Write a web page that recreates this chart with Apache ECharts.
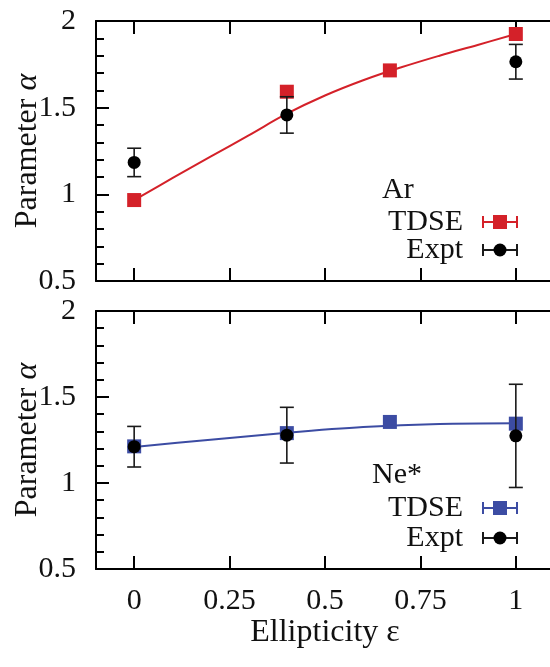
<!DOCTYPE html>
<html><head><meta charset="utf-8">
<script src="https://cdn.jsdelivr.net/npm/echarts@6/dist/echarts.min.js"></script>
<style>html,body{margin:0;padding:0;background:#fff}#c{width:550px;height:667px}</style>
</head><body><div id="c"></div>
<script>
// ---- data ----
const xTicks = [0, 0.25, 0.5, 0.75, 1];

const arTdseX = [0, 0.4, 0.67, 1];
const arTdseY = [0.967, 1.592, 1.715, 1.925];
const arFitX = [0, 0.1, 0.2, 0.3, 0.4, 0.5, 0.6, 0.7, 0.8, 0.9, 1];
const arFitY = [0.967, 1.093, 1.217, 1.340, 1.465, 1.570, 1.658, 1.733, 1.800, 1.862, 1.925];
const arExptX = [0, 0.4, 1];
const arExptY = [1.184, 1.458, 1.765];
const arExptErr = [0.082, 0.105, 0.100];

const neTdseX = [0, 0.4, 0.67, 1];
const neTdseY = [1.213, 1.290, 1.355, 1.345];
const neFitX = [0, 0.2, 0.4, 0.6, 0.8, 1];
const neFitY = [1.210, 1.252, 1.292, 1.325, 1.343, 1.347];
const neExptX = [0, 0.4, 1];
const neExptY = [1.211, 1.278, 1.274];
const neExptErr = [0.118, 0.162, 0.300];

// ---- styles ----
const FONT = 'Liberation Serif';
const FS = 30, FSN = 32;
const RED = '#d42129', BLUE = '#3c4ca3', INK = '#000';

const zip = (xs, ys) => xs.map((x, i) => [x, ys[i]]);

function xAxisDef(gridIndex, position, showLabel) {
  return {
    type: 'value', gridIndex, position, min: -0.1, max: 1.1,
    axisLine: { show: true, onZero: false, lineStyle: { color: INK, width: 2 } },
    axisTick: { show: true, inside: true, length: 13, customValues: xTicks, lineStyle: { color: INK, width: 2 } },
    axisLabel: { show: showLabel, customValues: xTicks, fontFamily: FONT, fontSize: FS, color: '#111', margin: 17,
      formatter: v => String(v) },
    splitLine: { show: false },
    name: showLabel ? 'Ellipticity ε' : '',
    nameLocation: 'middle', nameGap: 48, nameMoveOverlap: false,
    nameTextStyle: { fontFamily: FONT, fontSize: FSN, color: '#111' }
  };
}
function yAxisDef(gridIndex) {
  return {
    type: 'value', gridIndex, min: 0.5, max: 2, interval: 0.5,
    axisLine: { show: true, onZero: false, lineStyle: { color: INK, width: 2 } },
    axisTick: { show: true, inside: true, length: 13, lineStyle: { color: INK, width: 2 } },
    minorTick: { show: true, splitNumber: 5, length: 8, lineStyle: { color: INK, width: 2 } },
    axisLabel: { fontFamily: FONT, fontSize: FS, color: '#111', margin: 20 },
    splitLine: { show: false }, minorSplitLine: { show: false },
    name: 'Parameter {a|α}', nameLocation: 'middle', nameGap: 52, nameRotate: 90, nameMoveOverlap: false,
    nameTextStyle: { fontFamily: FONT, fontSize: FSN, color: '#111',
      rich: { a: { fontFamily: FONT, fontSize: FSN, fontStyle: 'italic', color: '#111' } } }
  };
}
function errSeries(axisIdx, xs, ys, errs) {
  return {
    type: 'custom', xAxisIndex: axisIdx * 2, yAxisIndex: axisIdx, z: 4, silent: true,
    data: xs.map((x, i) => [x, ys[i] - errs[i], ys[i] + errs[i]]),
    renderItem(params, api) {
      const lo = api.coord([api.value(0), api.value(1)]);
      const hi = api.coord([api.value(0), api.value(2)]);
      const w = 7, st = { stroke: '#1a1a1a', lineWidth: 1.6 };
      return { type: 'group', children: [
        { type: 'line', shape: { x1: lo[0], y1: lo[1], x2: hi[0], y2: hi[1] }, style: st },
        { type: 'line', shape: { x1: lo[0] - w, y1: lo[1], x2: lo[0] + w, y2: lo[1] }, style: st },
        { type: 'line', shape: { x1: hi[0] - w, y1: hi[1], x2: hi[0] + w, y2: hi[1] }, style: st }
      ] };
    }
  };
}
function legendBlock(title, titleX, yTitle, yT, yE, color) {
  const txt = (t, x, y, align) => ({ type: 'text', style: { text: t, x, y, align, verticalAlign: 'middle',
    fontFamily: FONT, fontSize: FS, fill: '#111' } });
  const bar = (y, c) => [
    { type: 'line', shape: { x1: 483, y1: y, x2: 517, y2: y }, style: { stroke: c, lineWidth: 2 } },
    { type: 'line', shape: { x1: 483, y1: y - 6, x2: 483, y2: y + 6 }, style: { stroke: c, lineWidth: 2 } },
    { type: 'line', shape: { x1: 517, y1: y - 6, x2: 517, y2: y + 6 }, style: { stroke: c, lineWidth: 2 } }
  ];
  return [
    txt(title, titleX, yTitle, 'left'),
    txt('TDSE', 463, yT, 'right'),
    txt('Expt', 463, yE, 'right'),
    ...bar(yT, color),
    { type: 'rect', shape: { x: 500 - 7, y: yT - 7, width: 14, height: 14 }, style: { fill: color } },
    ...bar(yE, '#1a1a1a'),
    { type: 'circle', shape: { cx: 500, cy: yE, r: 6.5 }, style: { fill: INK } }
  ];
}

const chart = echarts.init(document.getElementById('c'), null, { renderer: 'canvas' });
chart.setOption({
  backgroundColor: '#fff',
  animation: false,
  grid: [
    { left: 96, top: 21, width: 458, height: 260, show: false, containLabel: false, outerBoundsMode: 'none' },
    { left: 96, top: 311, width: 458, height: 258, show: false, containLabel: false, outerBoundsMode: 'none' }
  ],
  xAxis: [
    xAxisDef(0, 'bottom', false), xAxisDef(0, 'top', false),
    xAxisDef(1, 'bottom', true), xAxisDef(1, 'top', false)
  ],
  yAxis: [yAxisDef(0), yAxisDef(1)],
  series: [
    { type: 'line', xAxisIndex: 0, yAxisIndex: 0, data: zip(arFitX, arFitY), smooth: 0.4, showSymbol: false,
      lineStyle: { color: RED, width: 2 }, z: 2 },
    { type: 'scatter', xAxisIndex: 0, yAxisIndex: 0, data: zip(arTdseX, arTdseY), symbol: 'rect', symbolSize: 14,
      itemStyle: { color: RED, opacity: 1 }, z: 3 },
    errSeries(0, arExptX, arExptY, arExptErr),
    { type: 'scatter', xAxisIndex: 0, yAxisIndex: 0, data: zip(arExptX, arExptY), symbol: 'circle', symbolSize: 13,
      itemStyle: { color: INK, opacity: 1 }, z: 5 },

    { type: 'line', xAxisIndex: 2, yAxisIndex: 1, data: zip(neFitX, neFitY), smooth: 0.3, showSymbol: false,
      lineStyle: { color: BLUE, width: 2 }, z: 2 },
    { type: 'scatter', xAxisIndex: 2, yAxisIndex: 1, data: zip(neTdseX, neTdseY), symbol: 'rect', symbolSize: 14,
      itemStyle: { color: BLUE, opacity: 1 }, z: 3 },
    errSeries(1, neExptX, neExptY, neExptErr),
    { type: 'scatter', xAxisIndex: 2, yAxisIndex: 1, data: zip(neExptX, neExptY), symbol: 'circle', symbolSize: 13,
      itemStyle: { color: INK, opacity: 1 }, z: 5 }
  ],
  graphic: [
    ...legendBlock('Ar', 382, 190, 222, 250, RED),
    ...legendBlock('Ne*', 372, 475, 508, 538, BLUE)
  ]
});
</script>
</body></html>
